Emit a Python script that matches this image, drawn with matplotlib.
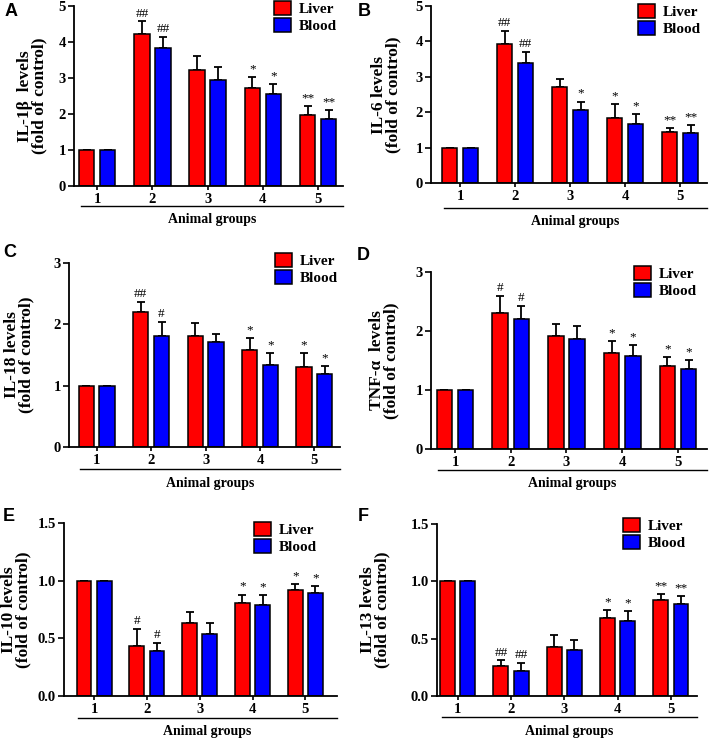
import numpy as np
import matplotlib
matplotlib.use("Agg")
from matplotlib import pyplot as plt

plt.rcParams["font.family"] = ["Liberation Serif", "DejaVu Serif"]
plt.rcParams["font.weight"] = "bold"

groups = ["1", "2", "3", "4", "5"]

# IL-1b
a_liver = [1.0, 4.22, 3.21, 2.72, 1.96]
a_liver_err = [0, 0.35, 0.39, 0.30, 0.27]
a_blood = [1.0, 3.83, 2.94, 2.55, 1.86]
a_blood_err = [0, 0.32, 0.36, 0.29, 0.25]
a_marks_liver = ["", "##", "", "*", "**"]
a_marks_blood = ["", "##", "", "*", "**"]

# IL-6
b_liver = [1.0, 3.93, 2.71, 1.85, 1.44]
b_liver_err = [0, 0.36, 0.22, 0.38, 0.11]
b_blood = [1.0, 3.38, 2.07, 1.68, 1.40]
b_blood_err = [0, 0.33, 0.23, 0.28, 0.24]
b_marks_liver = ["", "##", "", "*", "**"]
b_marks_blood = ["", "##", "*", "*", "**"]

# IL-18
c_liver = [1.0, 2.20, 1.81, 1.58, 1.31]
c_liver_err = [0, 0.16, 0.21, 0.19, 0.22]
c_blood = [1.0, 1.81, 1.72, 1.34, 1.19]
c_blood_err = [0, 0.23, 0.13, 0.19, 0.13]
c_marks_liver = ["", "##", "", "*", "*"]
c_marks_blood = ["", "#", "", "*", "*"]

# TNF-a
d_liver = [1.0, 2.31, 1.91, 1.63, 1.40]
d_liver_err = [0, 0.28, 0.21, 0.20, 0.16]
d_blood = [1.0, 2.20, 1.87, 1.57, 1.36]
d_blood_err = [0, 0.22, 0.22, 0.19, 0.15]
d_marks_liver = ["", "#", "", "*", "*"]
d_marks_blood = ["", "#", "", "*", "*"]

# IL-10
e_liver = [1.0, 0.435, 0.63, 0.81, 0.92]
e_liver_err = [0, 0.15, 0.10, 0.07, 0.05]
e_blood = [1.0, 0.39, 0.54, 0.785, 0.89]
e_blood_err = [0, 0.07, 0.09, 0.09, 0.06]
e_marks_liver = ["", "#", "", "*", "*"]
e_marks_blood = ["", "#", "", "*", "*"]

# IL-13
f_liver = [1.0, 0.26, 0.43, 0.68, 0.84]
f_liver_err = [0, 0.05, 0.10, 0.07, 0.05]
f_blood = [1.0, 0.22, 0.40, 0.65, 0.80]
f_blood_err = [0, 0.07, 0.09, 0.09, 0.07]
f_marks_liver = ["", "##", "", "*", "**"]
f_marks_blood = ["", "##", "", "*", "**"]

W, H = 709, 738
fig = plt.figure(figsize=(W / 100, H / 100), dpi=100)

# box = (left, right, top, bottom) in pixels; leg / lab / line are pixel offsets
panels = [
    dict(letter="A", ylabel="IL-1\u03b2  levels\n(fold of control)",
         liver=a_liver, le=a_liver_err, blood=a_blood, be=a_blood_err,
         ml=a_marks_liver, mb=a_marks_blood, ymax=5, yticks=[0, 1, 2, 3, 4, 5], fmt="{:.0f}",
         box=(74, 343, 6, 186), xlim=(-0.42, 4.45), leg=(-6, 5), lab=-27, line=20, pos=(5, 3)),
    dict(letter="B", ylabel="IL-6 levels\n(fold of control)",
         liver=b_liver, le=b_liver_err, blood=b_blood, be=b_blood_err,
         ml=b_marks_liver, mb=b_marks_blood, ymax=5, yticks=[0, 1, 2, 3, 4, 5], fmt="{:.0f}",
         box=(431, 707, 6, 183), xlim=(-0.53, 4.49), leg=(-6, 2), lab=-30, line=25, pos=(358, 3)),
    dict(letter="C", ylabel="IL-18 levels\n(fold of control)",
         liver=c_liver, le=c_liver_err, blood=c_blood, be=c_blood_err,
         ml=c_marks_liver, mb=c_marks_blood, ymax=3, yticks=[0, 1, 2, 3], fmt="{:.0f}",
         box=(69, 340, 263, 447), xlim=(-0.51, 4.47), leg=(-2, 10), lab=-35, line=22, pos=(3, 244)),
    dict(letter="D", ylabel="TNF-\u03b1  levels\n(fold of control)",
         liver=d_liver, le=d_liver_err, blood=d_blood, be=d_blood_err,
         ml=d_marks_liver, mb=d_marks_blood, ymax=3, yticks=[0, 1, 2, 3], fmt="{:.0f}",
         box=(431, 707, 272, 449), xlim=(-0.43, 4.52), leg=(-10, 6), lab=-32, line=21, pos=(357, 247)),
    dict(letter="E", ylabel="IL-10 levels\n(fold of control)",
         liver=e_liver, le=e_liver_err, blood=e_blood, be=e_blood_err,
         ml=e_marks_liver, mb=e_marks_blood, ymax=1.5, yticks=[0, 0.5, 1.0, 1.5], fmt="{:.1f}",
         box=(64, 337, 523, 696), xlim=(-0.57, 4.6), leg=(-20, 1), lab=-33, line=22, pos=(3, 508)),
    dict(letter="F", ylabel="IL-13 levels\n(fold of control)",
         liver=f_liver, le=f_liver_err, blood=f_blood, be=f_blood_err,
         ml=f_marks_liver, mb=f_marks_blood, ymax=1.5, yticks=[0, 0.5, 1.0, 1.5], fmt="{:.1f}",
         box=(437, 697, 524, 696), xlim=(-0.39, 4.49), leg=(-11, 6), lab=-47, line=21, pos=(358, 508)),
]

red = "#ff0000"
blue = "#0000ff"
x = np.arange(len(groups))
w = 0.28
off = 0.19

for p in panels:
    l, r, t, b = p["box"]
    ax = fig.add_axes([l / W, 1 - b / H, (r - l) / W, (b - t) / H])
    wpx, hpx = r - l, b - t

    ax.bar(x - off, p["liver"], w, color=red, edgecolor="black", linewidth=1.1, label="Liver", zorder=2)
    ax.bar(x + off, p["blood"], w, color=blue, edgecolor="black", linewidth=1.1, label="Blood", zorder=2)
    for xs, vals, errs in [(x - off, p["liver"], p["le"]), (x + off, p["blood"], p["be"])]:
        errs = np.array(errs)
        ax.errorbar(xs, vals, yerr=[np.zeros_like(errs), errs], fmt="none",
                    ecolor="black", elinewidth=1.3, capsize=3, capthick=1.3, zorder=1)

    pad = p["ymax"] * 0.01
    for xs, vals, errs, marks in [(x - off, p["liver"], p["le"], p["ml"]),
                                  (x + off, p["blood"], p["be"], p["mb"])]:
        for xi, v, e, m in zip(xs, vals, errs, marks):
            if m:
                ax.text(xi, v + e + pad, m, ha="center", va="bottom", fontsize=9.5, fontweight="normal")

    ax.set_ylim(0, p["ymax"])
    ax.set_xlim(*p["xlim"])
    ax.set_yticks(p["yticks"])
    ax.set_yticklabels([p["fmt"].format(v) for v in p["yticks"]], fontsize=10.5, fontweight="bold")
    ax.set_xticks(x)
    ax.set_xticklabels(groups, fontsize=10.5, fontweight="bold")
    ax.tick_params(axis="y", length=4, width=1.2, pad=2)
    ax.tick_params(axis="x", length=3, width=1.2, pad=2)
    for s in ["top", "right"]:
        ax.spines[s].set_visible(False)
    for s in ["left", "bottom"]:
        ax.spines[s].set_linewidth(1.3)

    ax.set_ylabel(p["ylabel"], fontsize=12.5, fontweight="bold", linespacing=0.82)
    ax.yaxis.set_label_coords(p["lab"] / wpx, 0.5)

    # group line and label under the x axis
    ly = -p["line"] / hpx
    x0 = -0.3
    x1 = p["xlim"][1]
    ax.plot([x0, x1], [ly, ly], color="black", linewidth=1.0,
            transform=ax.get_xaxis_transform(), clip_on=False)
    ax.text((x0 + x1) / 2, -(p["line"] + 14) / hpx, "Animal groups", transform=ax.get_xaxis_transform(),
            ha="center", va="center", fontsize=10, fontweight="bold")

    dx, dy = p["leg"]
    ax.legend(loc="upper right", bbox_to_anchor=(1 + dx / wpx, 1 + dy / hpx), frameon=False,
              prop={"size": 11, "weight": "bold"}, handlelength=1.1, handleheight=1.0,
              handletextpad=0.5, labelspacing=0.15, borderaxespad=0, borderpad=0)

    fig.text(p["pos"][0] / W, 1 - p["pos"][1] / H, p["letter"], ha="left", va="top",
             fontsize=13, fontweight="bold", family="Liberation Sans")

fig.savefig("out.png", dpi=100)
